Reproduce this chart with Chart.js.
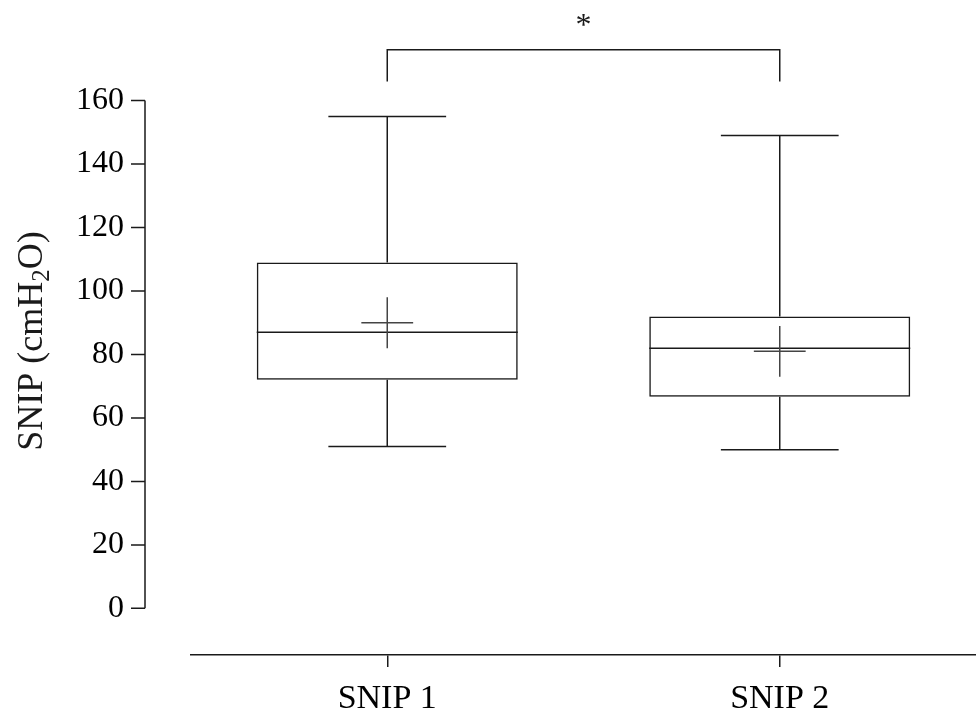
<!DOCTYPE html>
<html>
<head>
<meta charset="utf-8">
<script src="https://cdn.jsdelivr.net/npm/chart.js@4/dist/chart.umd.min.js"></script>
<style>
  html, body { margin: 0; padding: 0; background: #fff; }
  #wrap { width: 976px; height: 714px; }
</style>
</head>
<body>
<div id="wrap"><canvas id="snipChart" width="976" height="714"></canvas></div>
<script>
// values (cmH2O)
const categories = ['SNIP 1', 'SNIP 2'];
const whiskerLow = [51, 50];
const q1 = [72, 66.7];
const median = [87, 82];
const q3 = [109, 92];
const whiskerHigh = [155, 149];
const means = [90, 81];
const meanLow = [82, 73];
const meanHigh = [98, 89];
const yTicks = [0, 20, 40, 60, 80, 100, 120, 140, 160];
const bracketTop = 176;
const bracketBottom = 166;

const FONT = "'Liberation Serif', 'Times New Roman', serif";
const INK = '#1a1a1a';

// whiskers, medians, mean markers, y axis, bracket and title
const boxExtras = {
    id: 'boxExtras',
    afterDatasetsDraw: function (chart) {
        var ctx = chart.ctx;
        var x = chart.scales.x;
        var y = chart.scales.y;
        var meta = chart.getDatasetMeta(0);
        ctx.save();
        ctx.strokeStyle = INK;
        ctx.lineWidth = 1.5;

        categories.forEach(function (c, i) {
            var cx = x.getPixelForValue(i);
            var bar = meta.data[i];
            var half = bar.width / 2;
            var cap = x.width / categories.length * 0.15;
            ctx.beginPath();
            // median
            ctx.moveTo(cx - half, y.getPixelForValue(median[i]));
            ctx.lineTo(cx + half, y.getPixelForValue(median[i]));
            // upper whisker
            ctx.moveTo(cx, y.getPixelForValue(q3[i]));
            ctx.lineTo(cx, y.getPixelForValue(whiskerHigh[i]));
            ctx.moveTo(cx - cap, y.getPixelForValue(whiskerHigh[i]));
            ctx.lineTo(cx + cap, y.getPixelForValue(whiskerHigh[i]));
            // lower whisker
            ctx.moveTo(cx, y.getPixelForValue(q1[i]));
            ctx.lineTo(cx, y.getPixelForValue(whiskerLow[i]));
            ctx.moveTo(cx - cap, y.getPixelForValue(whiskerLow[i]));
            ctx.lineTo(cx + cap, y.getPixelForValue(whiskerLow[i]));
            ctx.stroke();

            // mean cross
            var mw = x.width / categories.length * 0.066;
            ctx.save();
            ctx.strokeStyle = '#444';
            ctx.beginPath();
            ctx.moveTo(cx - mw, y.getPixelForValue(means[i]));
            ctx.lineTo(cx + mw, y.getPixelForValue(means[i]));
            ctx.moveTo(cx, y.getPixelForValue(meanLow[i]));
            ctx.lineTo(cx, y.getPixelForValue(meanHigh[i]));
            ctx.stroke();
            ctx.restore();
        });

        // detached y axis line with ticks
        var ax = 145;
        ctx.beginPath();
        ctx.moveTo(ax, y.getPixelForValue(yTicks[0]));
        ctx.lineTo(ax, y.getPixelForValue(yTicks[yTicks.length - 1]));
        yTicks.forEach(function (v) {
            ctx.moveTo(ax - 14, y.getPixelForValue(v));
            ctx.lineTo(ax, y.getPixelForValue(v));
        });
        ctx.stroke();

        // significance bracket
        var x0 = x.getPixelForValue(0);
        var x1 = x.getPixelForValue(1);
        var yt = y.getPixelForValue(bracketTop);
        var yb = y.getPixelForValue(bracketBottom);
        ctx.beginPath();
        ctx.moveTo(x0, yb);
        ctx.lineTo(x0, yt);
        ctx.lineTo(x1, yt);
        ctx.lineTo(x1, yb);
        ctx.stroke();
        ctx.fillStyle = INK;
        ctx.font = '32px ' + FONT;
        ctx.textAlign = 'center';
        ctx.textBaseline = 'alphabetic';
        ctx.fillText('*', (x0 + x1) / 2, yt - 15);

        // y axis title with subscript
        ctx.translate(42, 341);
        ctx.rotate(-Math.PI / 2);
        ctx.textAlign = 'left';
        var big = '36px ' + FONT;
        var small = '25px ' + FONT;
        ctx.font = big;
        var w1 = ctx.measureText('SNIP (cmH').width;
        var w3 = ctx.measureText('O)').width;
        ctx.font = small;
        var w2 = ctx.measureText('2').width;
        var sx = -(w1 + w2 + w3) / 2;
        ctx.font = big;
        ctx.fillText('SNIP (cmH', sx, 0);
        ctx.font = small;
        ctx.fillText('2', sx + w1, 7);
        ctx.font = big;
        ctx.fillText('O)', sx + w1 + w2, 0);
        ctx.restore();
    }
};

var ctx = document.getElementById('snipChart').getContext('2d');
var chart = new Chart(ctx, {
    type: 'bar',
    data: {
        labels: categories,
        datasets: [{
            label: 'SNIP',
            data: q1.map(function (v, i) { return [v, q3[i]]; }),
            backgroundColor: 'rgba(255,255,255,0)',
            borderColor: INK,
            borderWidth: 1.5,
            borderSkipped: false,
            barPercentage: 0.665,
            categoryPercentage: 1
        }]
    },
    options: {
        responsive: false,
        animation: false,
        layout: { padding: 0 },
        plugins: {
            legend: { display: false },
            tooltip: { enabled: false }
        },
        scales: {
            x: {
                offset: true,
                grid: {
                    offset: false,
                    drawOnChartArea: false,
                    drawTicks: true,
                    tickLength: 12,
                    color: INK,
                    lineWidth: 1.5
                },
                border: { display: true, color: INK, width: 1.5 },
                ticks: {
                    color: '#000',
                    padding: 12,
                    font: { family: FONT, size: 34 }
                },
                afterFit: function (s) {
                    s.height = 59;
                    s.paddingLeft = 0;
                    s.paddingRight = 0;
                }
            },
            y: {
                min: -14.7,
                max: 191.7,
                grid: { display: false, drawTicks: false, tickLength: 0 },
                border: { display: false },
                afterBuildTicks: function (s) {
                    s.ticks = yTicks.map(function (v) { return { value: v }; });
                },
                ticks: {
                    color: '#000',
                    padding: 67,
                    font: { family: FONT, size: 32 }
                },
                afterFit: function (s) {
                    s.width = 191;
                    s.paddingTop = 0;
                    s.paddingBottom = 0;
                }
            }
        }
    },
    plugins: [boxExtras]
});
</script>
</body>
</html>
